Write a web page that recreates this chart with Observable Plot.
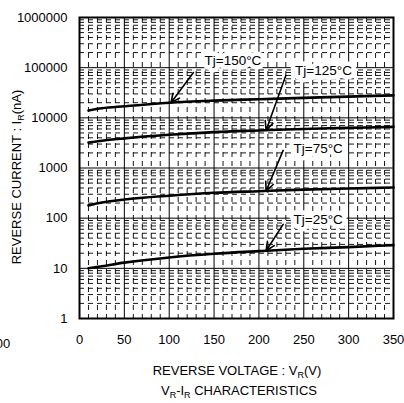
<!DOCTYPE html>
<html><head><meta charset="utf-8">
<script src="https://cdn.jsdelivr.net/npm/d3@7"></script>
<script src="https://cdn.jsdelivr.net/npm/@observablehq/plot@0.6"></script>
<style>body{margin:0;background:#fff}svg{display:block}</style>
</head><body><div id="c"></div>
<script>
const voltages = [10, 25, 50, 100, 150, 200, 250, 300, 350];
const tj150 = [14000, 15500, 17000, 20000, 22000, 23500, 25000, 26500, 28000];
const tj125 = [3200, 3500, 3900, 4600, 5200, 5600, 6000, 6300, 6600];
const tj75  = [180, 205, 235, 280, 320, 345, 370, 390, 410];
const tj25  = [10, 11, 13, 16.5, 19.5, 22, 24.5, 26.5, 29];
const seriesNames = ["Tj=150°C", "Tj=125°C", "Tj=75°C", "Tj=25°C"];
const xTicks = [0, 50, 100, 150, 200, 250, 300, 350];
const yTicks = [1, 10, 100, 1000, 10000, 100000, 1000000];
// annotation positions (data space): label x,y ; arrow start x,y ; arrow tip x
const labelX = [171, 272, 266, 266];
const labelY = [139000, 88000, 2450, 95];
const arrowX1 = [127, 230, 227, 227];
const arrowY1 = [80000, 70000, 2240, 75];
const arrowX2 = [102, 208, 208, 208];

const all = [tj150, tj125, tj75, tj25];
const rows = [];
all.forEach((s, i) => s.forEach((v, j) => rows.push({name: seriesNames[i], x: voltages[j], y: v})));
const interp = (s, x) => {
  for (let j = 0; j < voltages.length - 1; j++) {
    if (x >= voltages[j] && x <= voltages[j+1]) {
      const t = (x - voltages[j]) / (voltages[j+1] - voltages[j]);
      return Math.exp(Math.log(s[j]) * (1-t) + Math.log(s[j+1]) * t);
    }
  }
  return s[s.length-1];
};
const ann = seriesNames.map((n, i) => ({
  name: n, lx: labelX[i], ly: labelY[i],
  x1: arrowX1[i], y1: arrowY1[i], x2: arrowX2[i], y2: interp(all[i], arrowX2[i])
}));

const minorX = d3.range(10, 350, 10).filter(v => v % 50 !== 0);
const minorY = [];
for (let e = 0; e < 6; e++) for (let k = 2; k <= 9; k++) minorY.push(k * Math.pow(10, e));

const chart = Plot.plot({
  width: 404, height: 403,
  marginLeft: 79, marginRight: 11, marginTop: 17, marginBottom: 85,
  style: {fontFamily: "'Liberation Sans', Arial, sans-serif", fontSize: "13px", color: "#000", background: "#fff"},
  x: {domain: [0, 350], ticks: xTicks, tickSize: 0, tickPadding: 16, label: null},
  y: {type: "log", domain: [1, 1000000], ticks: yTicks, tickFormat: d3.format("d"), tickSize: 0, tickPadding: 12, label: null},
  marks: [
    Plot.ruleX(minorX, {stroke: "#000", strokeWidth: 1, strokeDasharray: "5,4", strokeOpacity: 0.9}),
    Plot.ruleY(minorY, {stroke: "#000", strokeWidth: 1, strokeDasharray: "5,4", strokeOpacity: 0.9}),
    Plot.ruleX(xTicks, {stroke: "#000", strokeWidth: 1}),
    Plot.ruleY(yTicks, {stroke: "#000", strokeWidth: 1}),
    Plot.line(rows, {x: "x", y: "y", z: "name", stroke: "#000", strokeWidth: 2.6, curve: "monotone-x"}),
    Plot.text(ann, {x: "lx", y: "ly", text: "name", fill: "#000", stroke: "#fff", strokeWidth: 9, fontSize: 13.5}),
    Plot.arrow(ann, {x1: "x1", y1: "y1", x2: "x2", y2: "y2", stroke: "#000", strokeWidth: 1.6, headLength: 9, headAngle: 50}),
    Plot.frame({stroke: "#000", strokeWidth: 2})
  ]
});
document.getElementById("c").append(chart);
const svg = d3.select(chart);
const addSub = (x, y, parts, rotate) => {
  const t = svg.append("text").attr("text-anchor", "middle").attr("font-size", 13)
    .attr("font-family", "'Liberation Sans', Arial, sans-serif").attr("fill", "#000");
  if (rotate) t.attr("transform", `translate(${x},${y}) rotate(-90)`);
  else t.attr("x", x).attr("y", y);
  parts.forEach(p => {
    const ts = t.append("tspan").text(p[0]);
    if (p[1]) ts.attr("font-size", 9).attr("dy", 3);
    if (p[2]) ts.attr("dy", -3);
  });
};
addSub(237, 375, [["REVERSE VOLTAGE : V"], ["R", 1], ["(V)", 0, 1]]);
addSub(239, 395, [["V"], ["R", 1], ["-I", 0, 1], ["R", 1], [" CHARACTERISTICS", 0, 1]]);
addSub(21, 177, [["REVERSE CURRENT : I"], ["R", 1], ["(nA)", 0, 1]], true);
svg.append("text").attr("x", 3).attr("y", 348).attr("font-size", 13)
  .attr("font-family", "'Liberation Sans', Arial, sans-serif").text("00");
</script></body></html>
